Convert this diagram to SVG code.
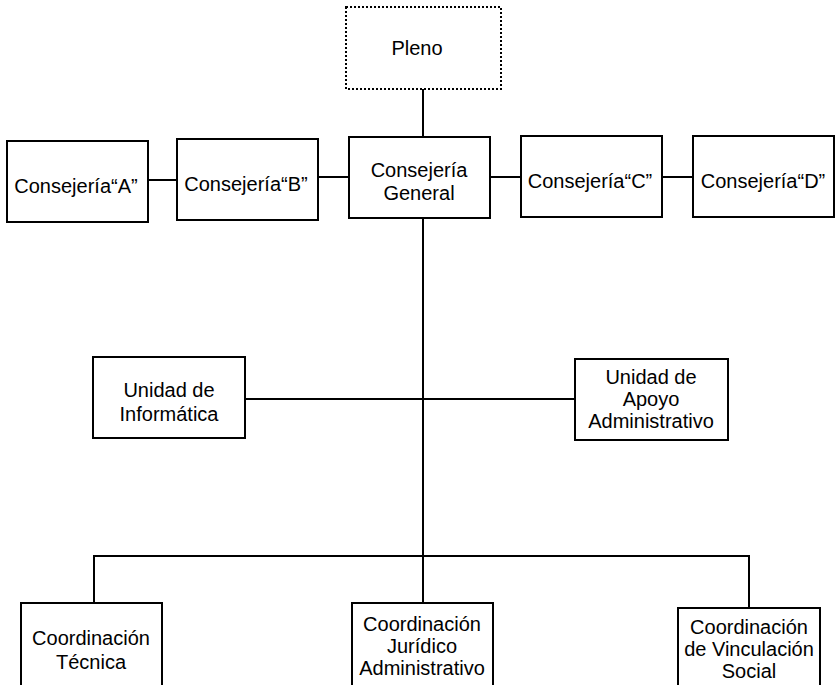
<svg xmlns="http://www.w3.org/2000/svg" width="837" height="685" viewBox="0 0 837 685">
<style>
.box{fill:#fff;stroke:#000;stroke-width:2}
.dot{fill:#fff;stroke:#000;stroke-width:2;stroke-dasharray:2 2}
.ln{stroke:#000;stroke-width:2;fill:none}
text{font-family:"Liberation Sans",Arial,sans-serif;font-size:20px;fill:#000;text-anchor:middle}
</style>
<rect width="837" height="685" fill="#fff"/>
<g id="connectors">
<line class="ln" x1="423" y1="89" x2="423" y2="137"/>
<line class="ln" x1="148" y1="180" x2="177" y2="180"/>
<line class="ln" x1="318" y1="177" x2="349" y2="177"/>
<line class="ln" x1="490" y1="177" x2="521" y2="177"/>
<line class="ln" x1="662" y1="177" x2="693" y2="177"/>
<line class="ln" x1="423" y1="218" x2="423" y2="603"/>
<line class="ln" x1="245" y1="399" x2="575" y2="399"/>
<polyline class="ln" points="94,603 94,556 749,556 749,608"/>
</g>
<g id="pleno"><rect class="dot" x="346" y="7" width="155" height="82"/><text x="417" y="55">Pleno</text></g>
<g id="consA"><rect class="box" x="7" y="141" width="141" height="81"/><text x="76" y="193">Consejería“A”</text></g>
<g id="consB"><rect class="box" x="177" y="139" width="141" height="81"/><text x="246" y="191">Consejería“B”</text></g>
<g id="consGeneral"><rect class="box" x="349" y="137" width="141" height="81"/><text x="419" y="177">Consejería</text><text x="419" y="200">General</text></g>
<g id="consC"><rect class="box" x="521" y="136" width="141" height="81"/><text x="590" y="188">Consejería“C”</text></g>
<g id="consD"><rect class="box" x="693" y="136" width="141" height="81"/><text x="763" y="188">Consejería“D”</text></g>
<g id="uInformatica"><rect class="box" x="93" y="357" width="152" height="81"/><text x="169" y="397">Unidad de</text><text x="169" y="421">Informática</text></g>
<g id="uApoyo"><rect class="box" x="575" y="359" width="153" height="81"/><text x="651" y="384">Unidad de</text><text x="651" y="406">Apoyo</text><text x="651" y="428">Administrativo</text></g>
<g id="cTecnica"><rect class="box" x="21" y="603" width="141" height="90"/><text x="91" y="645">Coordinación</text><text x="91" y="669">Técnica</text></g>
<g id="cJuridico"><rect class="box" x="352" y="603" width="141" height="90"/><text x="422" y="631">Coordinación</text><text x="422" y="653">Jurídico</text><text x="422" y="675">Administrativo</text></g>
<g id="cVinculacion"><rect class="box" x="678" y="608" width="142" height="90"/><text x="749" y="634">Coordinación</text><text x="749" y="656">de Vinculación</text><text x="749" y="678">Social</text></g>
</svg>
